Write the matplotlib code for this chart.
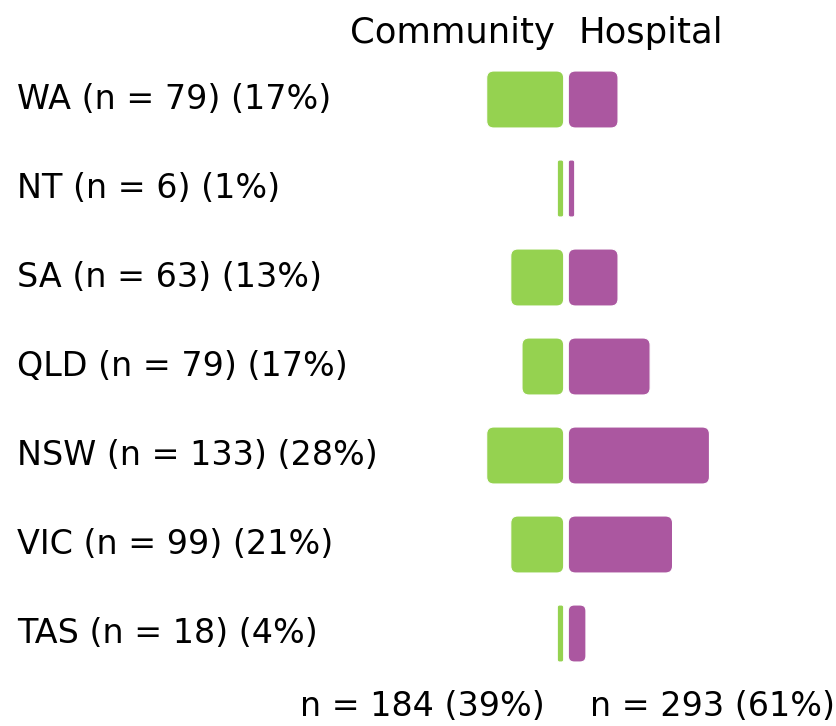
import matplotlib
matplotlib.use("Agg")
import matplotlib.pyplot as plt
from matplotlib.patches import FancyBboxPatch

# data (top to bottom)
states = ["WA", "NT", "SA", "QLD", "NSW", "VIC", "TAS"]
n_state = [79, 6, 63, 79, 133, 99, 18]
pct_state = [17, 1, 13, 17, 28, 21, 4]
community = [48, 4, 33, 26, 48, 33, 4]
hospital = [31, 4, 31, 51, 88, 65, 11]
group_names = ["Community", "Hospital"]
group_n = [184, 293]
group_pct = [39, 61]

GREEN = "#95d250"
PURPLE = "#ab57a0"

W, H = 837, 726
fig = plt.figure(figsize=(W / 100, H / 100), dpi=100)
ax = fig.add_axes([0, 0, 1, 1])
ax.axis("off")

# pixel geometry -> data limits
px_per_unit = 1.604
x0_px = 566.0
row_px = 89.0
row0_px = 99.5
ax.set_xlim(-x0_px / px_per_unit, (W - x0_px) / px_per_unit)
ax.set_ylim((H - row0_px) / row_px, -row0_px / row_px)

gap = 2.3 / px_per_unit
bar_h = 57.0 / row_px
aspect = (1 / row_px) / (1 / px_per_unit)
r_full = 7.0 / px_per_unit

def rbar(x, y, w, color):
    r = min(r_full, w / 3.0)
    p = FancyBboxPatch((x, y - bar_h / 2), w, bar_h,
                       boxstyle=f"round,pad=0,rounding_size={r}",
                       mutation_aspect=aspect, facecolor=color,
                       edgecolor="white", linewidth=0.8)
    ax.add_patch(p)

for i, (c, h) in enumerate(zip(community, hospital)):
    rbar(-gap - c, i, c, GREEN)
    rbar(gap, i, h, PURPLE)
    fig.text(17 / W, 1 - (row0_px + i * row_px + 9.5) / H,
             f"{states[i]} (n = {n_state[i]}) ({pct_state[i]}%)",
             fontsize=24, ha="left", va="baseline")

fig.text(555 / W, 1 - 43 / H, group_names[0], fontsize=25.5, ha="right", va="baseline")
fig.text(578 / W, 1 - 43 / H, group_names[1], fontsize=25.5, ha="left", va="baseline")
fig.text(545 / W, 1 - 716 / H, f"n = {group_n[0]} ({group_pct[0]}%)",
         fontsize=24, ha="right", va="baseline")
fig.text(590 / W, 1 - 716 / H, f"n = {group_n[1]} ({group_pct[1]}%)",
         fontsize=24, ha="left", va="baseline")

fig.savefig("out.png", dpi=100)
